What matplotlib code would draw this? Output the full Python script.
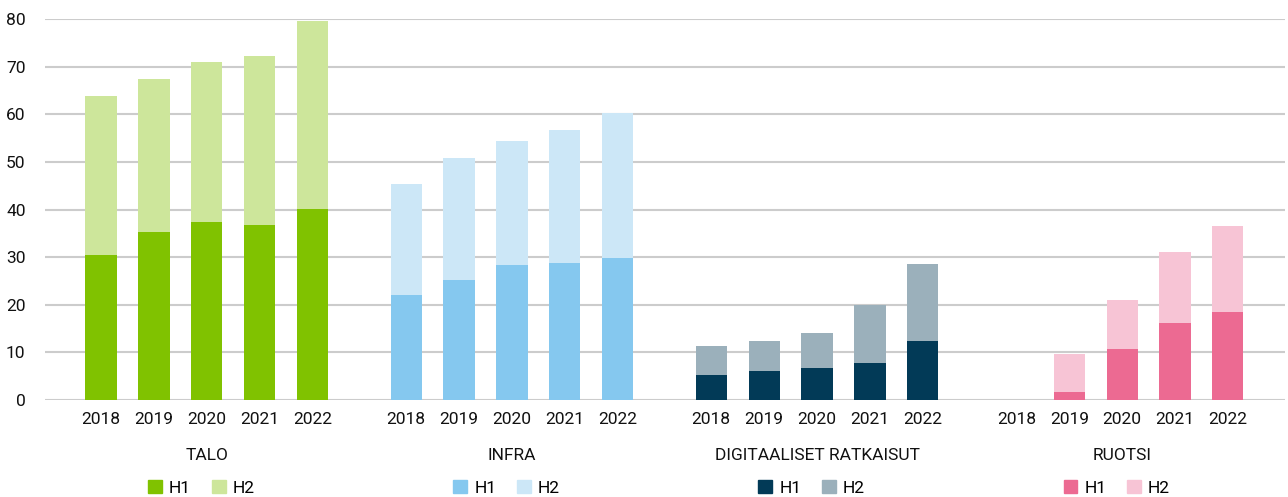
import numpy as np
import matplotlib.pyplot as plt
import matplotlib.transforms as mtransforms
from matplotlib.patches import Patch

plt.rcParams['font.family'] = ['Roboto', 'DejaVu Sans']

years = ['2018', '2019', '2020', '2021', '2022']
groups = ['TALO', 'INFRA', 'DIGITAALISET RATKAISUT', 'RUOTSI']

talo_h1 = [30.4, 35.3, 37.4, 36.7, 40.1]
talo_h2 = [33.4, 32.1, 33.6, 35.5, 39.5]
infra_h1 = [22.0, 25.2, 28.3, 28.8, 29.8]
infra_h2 = [23.4, 25.6, 26.1, 27.9, 30.5]
digi_h1 = [5.2, 6.1, 6.7, 7.8, 12.4]
digi_h2 = [6.1, 6.3, 7.4, 12.2, 16.2]
ruotsi_h1 = [0.0, 1.7, 10.7, 16.2, 18.5]
ruotsi_h2 = [0.0, 8.0, 10.3, 14.9, 18.0]

h1_values = [talo_h1, infra_h1, digi_h1, ruotsi_h1]
h2_values = [talo_h2, infra_h2, digi_h2, ruotsi_h2]
h1_colors = ['#80c200', '#85c8ef', '#023a57', '#ec6a92']
h2_colors = ['#cde69b', '#cce7f7', '#9bb0bb', '#f7c4d5']

fig = plt.figure(figsize=(12.88, 4.97), dpi=100)
ax = fig.add_axes([45 / 1288, 1 - 400 / 497, 1240 / 1288, 381 / 497])

group_step = 5.77
width = 0.59
trans = mtransforms.blended_transform_factory(ax.transData, fig.transFigure)

for g, name in enumerate(groups):
    x = g * group_step + np.arange(len(years))
    h1 = np.array(h1_values[g])
    h2 = np.array(h2_values[g])
    ax.bar(x, h1, width, color=h1_colors[g], zorder=3)
    ax.bar(x, h2, width, bottom=h1, color=h2_colors[g], zorder=3)
    for xi, yr in zip(x, years):
        ax.text(xi, 1 - 420 / 497, yr, transform=trans, ha='center', va='center',
                fontsize=12.5, color='#111111')
    xc = x.mean()
    ax.text(xc, 1 - 455 / 497, name, transform=trans, ha='center', va='center',
            fontsize=12.5, color='#111111')
    handles = [Patch(color=h1_colors[g]), Patch(color=h2_colors[g])]
    leg = ax.legend(handles, ['H1', 'H2'], ncol=2, loc='center',
                    bbox_to_anchor=(xc - 0.1, 1 - 488 / 497), bbox_transform=trans,
                    frameon=False, fontsize=12.5, handlelength=0.8, handleheight=0.8,
                    handletextpad=0.4, columnspacing=1.2, borderpad=0)
    ax.add_artist(leg)
ax.legend_ = None

ax.set_xlim(-1.06, 3 * group_step + 4 + 1.08)
ax.set_ylim(0, 80)
ax.set_yticks(np.arange(0, 81, 10))
ax.set_xticks([])
ax.tick_params(axis='y', length=0, pad=14, labelsize=12.5, labelcolor='#111111')
ax.grid(axis='y', color='#cccccc', linewidth=1.5, zorder=0)
for s in ax.spines.values():
    s.set_visible(False)

fig.savefig('out.png', dpi=100)
